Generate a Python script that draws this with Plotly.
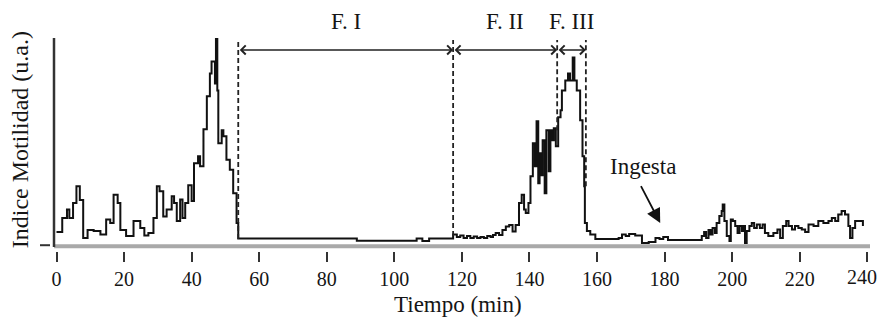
import plotly.graph_objects as go

# ---- data (Tiempo in min, Indice de motilidad in a.u.) ----
tiempo = [0, 1.7, 3.1, 3.8, 4.9, 5.9, 6.9, 7.9, 9.2, 11, 13, 14.7, 15.9, 16.9, 18.1, 18.9,
          20.6, 22.8, 24.8, 26, 27.2, 28.7, 29.7, 30.5, 31.6, 32.6, 34.1, 34.8, 35.6, 36.6,
          37.3, 38.1, 39, 40, 40.7, 41.9, 42.5, 43.5, 44.5, 45.4, 45.9, 46.9, 47.2, 47.6,
          47.9, 48.9, 49.4, 50.3, 51.3, 52.3, 53.3,
          53.8, 88.9, 106.6, 108.3, 110.3, 117.4, 118.5, 119.5, 120.5, 121.5, 122.5, 123.5,
          124.5, 125.5, 126.5, 127.5, 128.5, 129.2, 130, 131, 132, 133, 134, 135, 135.9,
          136.9, 137.7, 138.4, 138.9, 139.7, 140.3, 141, 141.6, 142.1, 142.6, 143, 143.5,
          143.9, 144.5, 145, 145.7, 146.2, 146.7, 147.2, 147.8, 148.5, 149.2, 149.6, 150.6,
          151.4, 152, 152.8, 153.3, 154, 155, 155.7, 156.2, 156.4, 157, 158, 159.5,
          166.4, 167.4, 168.5, 169.5, 171.3, 173.3, 175.3, 177.3, 178.5, 179.6, 181,
          191, 191.7, 192.3, 193, 193.6, 194.2, 194.9, 195.4, 196.2, 196.9, 197.2, 197.7,
          198.4, 199.2, 199.6, 200.2, 200.9, 201.6, 202.2, 202.9, 203.4, 203.8, 204.3,
          205.1, 205.8, 206.5, 207.3, 208.2, 209, 209.7, 210.7, 212.2, 213.4, 214.2, 215,
          216, 216.7, 217.7, 218.6, 219.6, 220.6, 221.6, 222.6, 224.1, 225.5, 227, 228.5,
          229.5, 230.5, 231.4, 232.4, 233.4, 234.4, 234.9, 235.6, 236.4, 237.9, 238.7]
motilidad = [14, 28, 36.5, 28, 43, 60, 46, 8, 16, 15, 11.5, 26.5, 23, 51.5, 43, 16,
             10, 25, 18, 10.5, 13, 28, 60, 55, 29.5, 36.5, 50, 43, 25, 46.5,
             28, 43, 61, 45, 83, 90, 80, 117, 150, 173, 185, 163, 215, 156,
             103, 116, 110, 86.5, 76.5, 53, 23,
             7.5, 5.2, 7.5, 5, 7.5, 11.5, 9, 10.5, 8, 10, 8, 9.5,
             8, 9, 8, 10, 9, 11, 13, 11, 16, 19.5, 21, 14.5, 21,
             43, 51.5, 36.5, 33, 43, 70, 103, 80, 125, 63, 93, 71,
             106, 53, 116, 75, 116, 106, 118, 100, 129, 136, 156, 166,
             173, 166, 189, 166, 156, 126, 90, 60, 23, 15, 11.5, 7,
             8, 11.5, 10, 12, 10.5, 3, 4, 8, 7, 9, 6,
             10, 14, 8, 16, 11.5, 18, 13, 23, 30, 35, 41.5, 25,
             10, 5, 26.5, 25, 20, 13, 20, 15, 20, 3, 15,
             20, 23, 18, 21.5, 18, 21.5, 13, 10, 13, 16.5, 8, 20,
             25, 20, 16.5, 20, 18, 16.5, 14, 21.5, 20, 25, 23, 25,
             28, 25, 31.5, 35, 31.5, 20, 8, 18, 25, 25, 20]

tick_vals = [0, 20, 40, 60, 80, 100, 120, 140, 160, 180, 200, 220, 240]
tick_text = [str(v) for v in tick_vals]

fases = ["F. I", "F. II", "F. III"]
limites_fase = [53.8, 117.4, 148.2, 156.7]
limites_base = [7, 10, 116, 60]   # where each dashed boundary meets the trace
ingesta_t = 178.7

# ---- layout geometry ----
X_RANGE = [-0.74, 240.8]
Y_RANGE = [-5, 208.5]
SERIF = "Liberation Serif, Times New Roman, serif"
INK = "#151515"

fig = go.Figure()
fig.add_trace(go.Scatter(x=tiempo, y=motilidad, mode="lines",
                         line=dict(color="#111111", width=2, shape="hv"),
                         hoverinfo="skip", showlegend=False))

shapes = []
# gray baseline (x axis)
shapes.append(dict(type="line", xref="paper", yref="y", x0=0, x1=1, y0=-0.3, y1=-0.3,
                   line=dict(color="#a9a9a9", width=4), layer="below"))
# y axis line
shapes.append(dict(type="line", xref="paper", yref="paper", x0=0, x1=0,
                   y0=(251.5 - 247.5) / 213.5, y1=1.0,
                   line=dict(color="#333333", width=2.5)))
# single y tick
shapes.append(dict(type="line", xref="paper", yref="y", x0=-14 / 816, x1=-4 / 816,
                   y0=0.8, y1=0.8, line=dict(color="#333333", width=2)))
# dashed phase boundaries
for b, yb in zip(limites_fase, limites_base):
    shapes.append(dict(type="line", xref="x", yref="y", x0=b, x1=b, y0=yb, y1=206.5,
                       line=dict(color="#222222", width=1.8, dash="5px,3px")))

annotations = []
for i, name in enumerate(fases):
    a, b = limites_fase[i], limites_fase[i + 1]
    annotations.append(dict(x=b, y=196.5, ax=a, ay=196.5, xref="x", yref="y",
                            axref="x", ayref="y", text="", showarrow=True,
                            arrowside="end+start", arrowhead=4, arrowsize=1.1,
                            arrowwidth=1.6, arrowcolor="#222222", standoff=0,
                            startstandoff=0))
    annotations.append(dict(x=(a + b) / 2, y=(251.5 - 21) / 213.5, xref="x", yref="paper",
                            text=name, showarrow=False, xanchor="center",
                            yanchor="middle", font=dict(family=SERIF, size=23, color=INK)))

# Ingesta label and arrow
annotations.append(dict(x=ingesta_t - 17.6 / 3.378, y=(251.5 - 167) / 213.5, xref="x",
                        yref="paper", text="Ingesta", showarrow=False, xanchor="center",
                        yanchor="middle", font=dict(family=SERIF, size=23, color=INK)))
annotations.append(dict(x=ingesta_t, y=23, xref="x", yref="y", text="", showarrow=True,
                        ax=ingesta_t - 20 / 3.378, ay=61.5, axref="x", ayref="y",
                        arrowhead=2, arrowsize=1.6, arrowwidth=1.8,
                        arrowcolor="#111111", standoff=0))

# last tick label, nudged left so it stays inside the page (as in the original)
annotations.append(dict(x=(862 - 54) / 816, y=(251.5 - 277.5) / 213.5, xref="paper",
                        yref="paper", text=tick_text[-1], showarrow=False,
                        xanchor="center", yanchor="middle",
                        font=dict(family=SERIF, size=20, color=INK)))

# axis titles
annotations.append(dict(x=(457.5 - 54) / 816, y=(251.5 - 305) / 213.5, xref="paper",
                        yref="paper", text="Tiempo (min)", showarrow=False,
                        xanchor="center", yanchor="middle",
                        font=dict(family=SERIF, size=23, color=INK)))
annotations.append(dict(x=(20 - 54) / 816, y=(251.5 - 140.5) / 213.5, xref="paper",
                        yref="paper", text="Indice Motilidad (u.a.)", showarrow=False,
                        textangle=-90, xanchor="center", yanchor="middle",
                        font=dict(family=SERIF, size=24, color=INK)))

tick_text_shown = tick_text[:-1] + [""]

fig.update_layout(
    width=881, height=321,
    margin=dict(l=54, r=11, t=38, b=69.5, autoexpand=False),
    paper_bgcolor="white", plot_bgcolor="white",
    shapes=shapes, annotations=annotations,
    xaxis=dict(range=X_RANGE, tickvals=tick_vals, ticktext=tick_text_shown,
               ticks="outside", ticklen=10, tickwidth=2, tickcolor="#333333",
               automargin=False,
               showgrid=False, zeroline=False, showline=False,
               tickfont=dict(family=SERIF, size=20, color=INK)),
    yaxis=dict(range=Y_RANGE, showticklabels=False, ticks="", showgrid=False,
               zeroline=False, showline=False, automargin=False),
)

fig.write_html("out.html", config={"displayModeBar": False},
               post_script="document.body.style.margin='0px';"
                           "document.body.style.overflow='hidden';")
